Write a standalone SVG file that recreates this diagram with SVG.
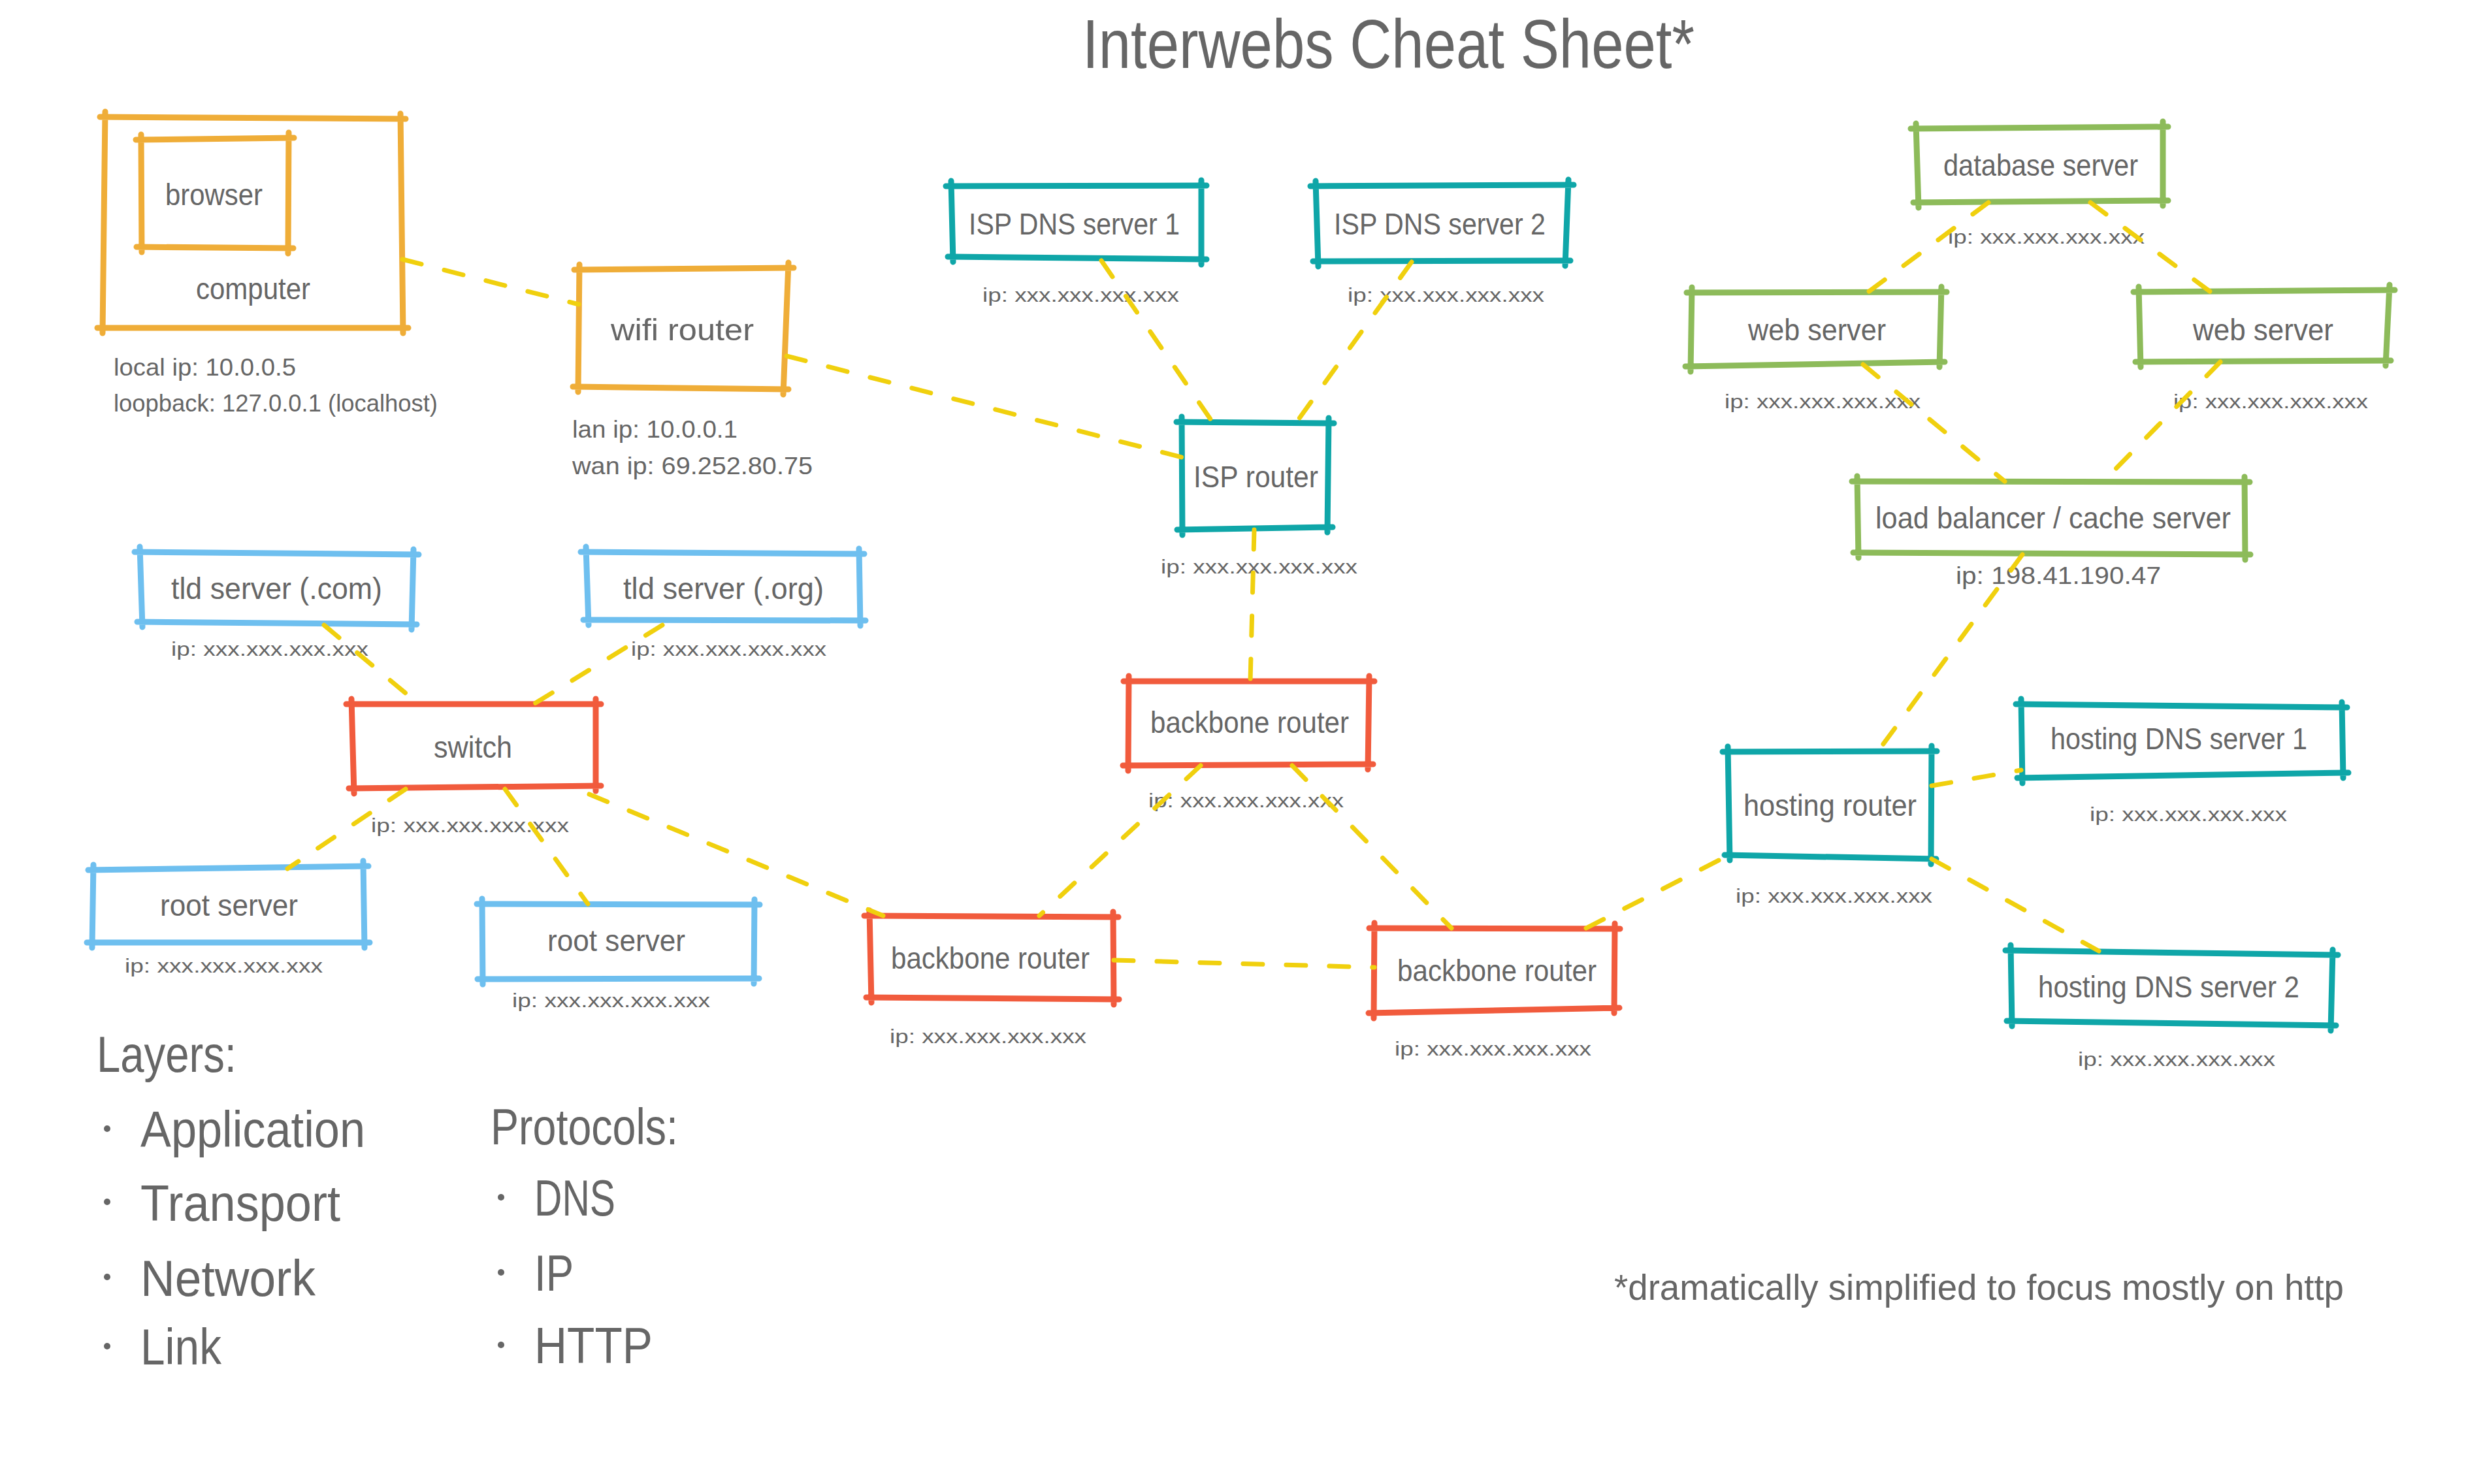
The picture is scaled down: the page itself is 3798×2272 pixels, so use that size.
<svg xmlns="http://www.w3.org/2000/svg" width="3798" height="2272" viewBox="0 0 3798 2272">
<style>
.bx{fill:none;stroke-width:9;stroke-linecap:round;stroke-linejoin:round}
.o{stroke:#efad38}.t{stroke:#0fa6a8}.g{stroke:#8dbb5a}.b{stroke:#6ebfef}.r{stroke:#f15b3d}
text{font-family:"Liberation Sans Narrow","Liberation Sans",Arial,sans-serif;fill:#666666}
.lbl{font-size:46px}.sub{font-size:36px}.ip{font-size:30px}.leg{font-size:78px}.title{font-size:105px}.foot{font-size:56px}
.ln{fill:none;stroke:#f0d00e;stroke-width:7;stroke-linecap:round;stroke-dasharray:30 36}
.dot{fill:#666666}
</style>
<rect width="3798" height="2272" fill="#ffffff"/>
<text id="title" class="title" x="1657" y="104" textLength="937" lengthAdjust="spacingAndGlyphs">Interwebs Cheat Sheet*</text>

<g id="computer">
<path class="bx o" d="M153 179L621 182M613 174L617 510M149 502L625 502M161 171L157 510"/>
<text class="lbl" x="300" y="458" textLength="175" lengthAdjust="spacingAndGlyphs">computer</text>
<text class="sub" x="174" y="575" textLength="279" lengthAdjust="spacingAndGlyphs">local ip: 10.0.0.5</text>
<text class="sub" x="174" y="630" textLength="496" lengthAdjust="spacingAndGlyphs">loopback: 127.0.0.1 (localhost)</text>
</g>
<g id="browser">
<path class="bx o" d="M208 214L450 211M442 203L441 388M209 378L449 380M216 206L217 386"/>
<text class="lbl" x="253" y="314" textLength="149" lengthAdjust="spacingAndGlyphs">browser</text>
</g>
<g id="wifi-router">
<path class="bx o" d="M879 413L1215 410M1207 402L1199 604M877 592L1207 596M887 405L885 600"/>
<text class="lbl" x="935" y="521" textLength="219" lengthAdjust="spacingAndGlyphs">wifi router</text>
<text class="sub" x="876" y="670" textLength="253" lengthAdjust="spacingAndGlyphs">lan ip: 10.0.0.1</text>
<text class="sub" x="876" y="726" textLength="368" lengthAdjust="spacingAndGlyphs">wan ip: 69.252.80.75</text>
</g>

<g id="isp-dns-1">
<path class="bx t" d="M1448 285L1847 284M1839 276L1839 405M1451 393L1847 397M1456 277L1459 401"/>
<text class="lbl" x="1483" y="359" textLength="323" lengthAdjust="spacingAndGlyphs">ISP DNS server 1</text>
<text class="ip" x="1504" y="462" textLength="301" lengthAdjust="spacingAndGlyphs">ip: xxx.xxx.xxx.xxx</text>
</g>
<g id="isp-dns-2">
<path class="bx t" d="M2006 285L2409 283M2401 275L2396 407M2010 400L2404 399M2014 277L2018 408"/>
<text class="lbl" x="2042" y="359" textLength="324" lengthAdjust="spacingAndGlyphs">ISP DNS server 2</text>
<text class="ip" x="2063" y="462" textLength="301" lengthAdjust="spacingAndGlyphs">ip: xxx.xxx.xxx.xxx</text>
</g>
<g id="isp-router">
<path class="bx t" d="M1801 646L2042 648M2034 640L2032 815M1802 811L2040 807M1809 638L1810 819"/>
<text class="lbl" x="1827" y="746" textLength="191" lengthAdjust="spacingAndGlyphs">ISP router</text>
<text class="ip" x="1777" y="878" textLength="301" lengthAdjust="spacingAndGlyphs">ip: xxx.xxx.xxx.xxx</text>
</g>

<g id="database-server">
<path class="bx g" d="M2925 197L3319 194M3311 186L3311 315M2929 310L3319 307M2933 189L2937 318"/>
<text class="lbl" x="2975" y="269" textLength="298" lengthAdjust="spacingAndGlyphs">database server</text>
<text class="ip" x="2982" y="373" textLength="301" lengthAdjust="spacingAndGlyphs">ip: xxx.xxx.xxx.xxx</text>
</g>
<g id="web-server-1">
<path class="bx g" d="M2582 448L2980 447M2972 439L2969 562M2580 561L2977 554M2590 440L2588 569"/>
<text class="lbl" x="2676" y="521" textLength="211" lengthAdjust="spacingAndGlyphs">web server</text>
<text class="ip" x="2640" y="625" textLength="300" lengthAdjust="spacingAndGlyphs">ip: xxx.xxx.xxx.xxx</text>
</g>
<g id="web-server-2">
<path class="bx g" d="M3266 447L3666 444M3658 436L3652 560M3269 554L3660 552M3274 439L3277 562"/>
<text class="lbl" x="3357" y="521" textLength="215" lengthAdjust="spacingAndGlyphs">web server</text>
<text class="ip" x="3327" y="625" textLength="298" lengthAdjust="spacingAndGlyphs">ip: xxx.xxx.xxx.xxx</text>
</g>
<g id="load-balancer">
<path class="bx g" d="M2835 737L3444 738M3436 730L3437 857M2837 846L3445 849M2843 729L2845 854"/>
<text class="lbl" x="2871" y="809" textLength="544" lengthAdjust="spacingAndGlyphs">load balancer / cache server</text>
<text class="sub" x="2994" y="894" textLength="314" lengthAdjust="spacingAndGlyphs">ip: 198.41.190.47</text>
</g>

<g id="tld-com">
<path class="bx b" d="M206 845L641 849M633 841L630 964M210 952L638 956M214 837L218 960"/>
<text class="lbl" x="262" y="917" textLength="323" lengthAdjust="spacingAndGlyphs">tld server (.com)</text>
<text class="ip" x="262" y="1004" textLength="302" lengthAdjust="spacingAndGlyphs">ip: xxx.xxx.xxx.xxx</text>
</g>
<g id="tld-org">
<path class="bx b" d="M889 845L1323 848M1315 840L1317 958M893 949L1325 950M897 837L901 957"/>
<text class="lbl" x="954" y="917" textLength="307" lengthAdjust="spacingAndGlyphs">tld server (.org)</text>
<text class="ip" x="966" y="1004" textLength="299" lengthAdjust="spacingAndGlyphs">ip: xxx.xxx.xxx.xxx</text>
</g>
<g id="switch">
<path class="r bx" d="M530 1078L920 1078M912 1070L912 1211M534 1207L920 1203M538 1070L542 1215"/>
<text class="lbl" x="664" y="1160" textLength="120" lengthAdjust="spacingAndGlyphs">switch</text>
<text class="ip" x="568" y="1274" textLength="303" lengthAdjust="spacingAndGlyphs">ip: xxx.xxx.xxx.xxx</text>
</g>
<g id="root-server-1">
<path class="bx b" d="M135 1332L564 1326M556 1318L558 1451M133 1443L566 1443M143 1324L141 1451"/>
<text class="lbl" x="245" y="1402" textLength="211" lengthAdjust="spacingAndGlyphs">root server</text>
<text class="ip" x="191" y="1489" textLength="303" lengthAdjust="spacingAndGlyphs">ip: xxx.xxx.xxx.xxx</text>
</g>
<g id="root-server-2">
<path class="bx b" d="M730 1384L1163 1385M1155 1377L1154 1506M731 1499L1162 1498M738 1376L739 1507"/>
<text class="lbl" x="838" y="1456" textLength="211" lengthAdjust="spacingAndGlyphs">root server</text>
<text class="ip" x="784" y="1542" textLength="303" lengthAdjust="spacingAndGlyphs">ip: xxx.xxx.xxx.xxx</text>
</g>

<g id="backbone-router-1">
<path class="r bx" d="M1720 1043L2104 1043M2096 1035L2094 1178M1719 1172L2102 1170M1728 1035L1727 1180"/>
<text class="lbl" x="1761" y="1122" textLength="304" lengthAdjust="spacingAndGlyphs">backbone router</text>
<text class="ip" x="1758" y="1236" textLength="299" lengthAdjust="spacingAndGlyphs">ip: xxx.xxx.xxx.xxx</text>
</g>
<g id="backbone-router-2">
<path class="r bx" d="M1323 1402L1712 1404M1704 1396L1705 1538M1326 1527L1713 1530M1331 1394L1334 1535"/>
<text class="lbl" x="1364" y="1483" textLength="304" lengthAdjust="spacingAndGlyphs">backbone router</text>
<text class="ip" x="1362" y="1597" textLength="301" lengthAdjust="spacingAndGlyphs">ip: xxx.xxx.xxx.xxx</text>
</g>
<g id="backbone-router-3">
<path class="r bx" d="M2096 1421L2480 1422M2472 1414L2471 1551M2095 1551L2479 1543M2104 1413L2103 1559"/>
<text class="lbl" x="2139" y="1502" textLength="305" lengthAdjust="spacingAndGlyphs">backbone router</text>
<text class="ip" x="2135" y="1616" textLength="301" lengthAdjust="spacingAndGlyphs">ip: xxx.xxx.xxx.xxx</text>
</g>

<g id="hosting-router">
<path class="bx t" d="M2637 1151L2965 1150M2957 1142L2956 1323M2640 1309L2964 1315M2645 1143L2648 1317"/>
<text class="lbl" x="2669" y="1249" textLength="265" lengthAdjust="spacingAndGlyphs">hosting router</text>
<text class="ip" x="2657" y="1382" textLength="301" lengthAdjust="spacingAndGlyphs">ip: xxx.xxx.xxx.xxx</text>
</g>
<g id="hosting-dns-1">
<path class="bx t" d="M3086 1078L3593 1083M3585 1075L3587 1191M3088 1191L3595 1183M3094 1070L3096 1199"/>
<text class="lbl" x="3139" y="1147" textLength="393" lengthAdjust="spacingAndGlyphs">hosting DNS server 1</text>
<text class="ip" x="3199" y="1257" textLength="302" lengthAdjust="spacingAndGlyphs">ip: xxx.xxx.xxx.xxx</text>
</g>
<g id="hosting-dns-2">
<path class="bx t" d="M3070 1455L3579 1462M3571 1454L3568 1578M3072 1563L3576 1570M3078 1447L3080 1571"/>
<text class="lbl" x="3120" y="1527" textLength="400" lengthAdjust="spacingAndGlyphs">hosting DNS server 2</text>
<text class="ip" x="3181" y="1632" textLength="302" lengthAdjust="spacingAndGlyphs">ip: xxx.xxx.xxx.xxx</text>
</g>

<g id="connectors">
<path class="ln" d="M616 397L886 466"/>
<path class="ln" d="M1204 545L1809 700"/>
<path class="ln" d="M1686 399L1856 646"/>
<path class="ln" d="M2161 401L1985 646"/>
<path class="ln" d="M1920 811L1914 1043"/>
<path class="ln" d="M1838 1172L1591 1402"/>
<path class="ln" d="M1978 1172L2222 1421"/>
<path class="ln" d="M1705 1470L2104 1481"/>
<path class="ln" d="M2428 1421L2645 1310"/>
<path class="ln" d="M2957 1203L3094 1179"/>
<path class="ln" d="M2957 1315L3213 1456"/>
<path class="ln" d="M3096 849L2875 1150"/>
<path class="ln" d="M496 957L641 1078"/>
<path class="ln" d="M1014 957L817 1078"/>
<path class="ln" d="M621 1208L440 1330"/>
<path class="ln" d="M773 1208L900 1384"/>
<path class="ln" d="M902 1216L1352 1402"/>
<path class="ln" d="M3044 310L2860 447"/>
<path class="ln" d="M3200 310L3384 447"/>
<path class="ln" d="M2852 558L3069 737"/>
<path class="ln" d="M3399 554L3220 737"/>
</g>

<g id="legend">
<text class="leg" x="148" y="1641" textLength="214" lengthAdjust="spacingAndGlyphs">Layers:</text>
<circle class="dot" cx="164" cy="1728" r="5"/>
<text class="leg" x="215" y="1756" textLength="344" lengthAdjust="spacingAndGlyphs">Application</text>
<circle class="dot" cx="164" cy="1840" r="5"/>
<text class="leg" x="215" y="1869" textLength="306" lengthAdjust="spacingAndGlyphs">Transport</text>
<circle class="dot" cx="164" cy="1955" r="5"/>
<text class="leg" x="215" y="1984" textLength="268" lengthAdjust="spacingAndGlyphs">Network</text>
<circle class="dot" cx="164" cy="2061" r="5"/>
<text class="leg" x="215" y="2089" textLength="124" lengthAdjust="spacingAndGlyphs">Link</text>
<text class="leg" x="751" y="1752" textLength="287" lengthAdjust="spacingAndGlyphs">Protocols:</text>
<circle class="dot" cx="767" cy="1833" r="5"/>
<text class="leg" x="818" y="1861" textLength="124" lengthAdjust="spacingAndGlyphs">DNS</text>
<circle class="dot" cx="767" cy="1948" r="5"/>
<text class="leg" x="818" y="1976" textLength="60" lengthAdjust="spacingAndGlyphs">IP</text>
<circle class="dot" cx="767" cy="2059" r="5"/>
<text class="leg" x="818" y="2087" textLength="181" lengthAdjust="spacingAndGlyphs">HTTP</text>
</g>
<text id="footnote" class="foot" x="2471" y="1990" textLength="1117" lengthAdjust="spacingAndGlyphs">*dramatically simplified to focus mostly on http</text>
</svg>
